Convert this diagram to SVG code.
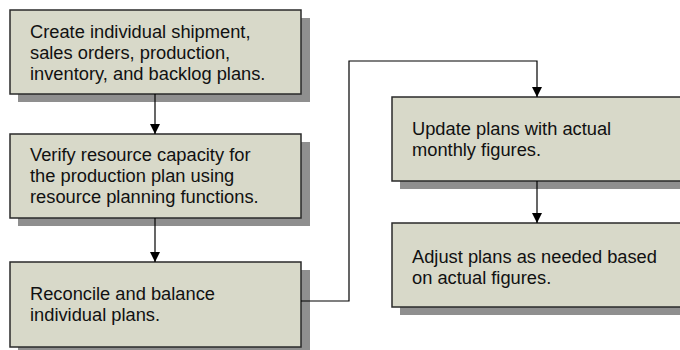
<svg xmlns="http://www.w3.org/2000/svg" width="680" height="350" viewBox="0 0 680 350">
<style>
.shadow{fill:#8f8f8f}
.box{fill:#d8d9c9;stroke:#2a2a2a;stroke-width:1.5}
.t{font-family:"Liberation Sans",Arial,sans-serif;font-size:18.3px;fill:#111}
.c{fill:none;stroke:#000;stroke-width:1.2}
</style>
<defs>
<marker id="ah" viewBox="0 0 10 10" refX="10" refY="5" markerWidth="10" markerHeight="10" markerUnits="userSpaceOnUse" orient="auto">
<path d="M0,0 L10,5 L0,10 Z" fill="#000"/>
</marker>
</defs>
<rect width="680" height="350" fill="#fff"/>
<g id="n1">
<rect class="shadow" x="18" y="18" width="292" height="84"/>
<rect class="box" x="10" y="10" width="291" height="84"/>
<text class="t" x="30" y="38">Create individual shipment,</text>
<text class="t" x="30" y="59">sales orders, production,</text>
<text class="t" x="30" y="80">inventory, and backlog plans.</text>
</g>
<g id="n2">
<rect class="shadow" x="18" y="142" width="292" height="84"/>
<rect class="box" x="10" y="134" width="291" height="84"/>
<text class="t" x="30" y="161">Verify resource capacity for</text>
<text class="t" x="30" y="182">the production plan using</text>
<text class="t" x="30" y="203">resource planning functions.</text>
</g>
<g id="n3">
<rect class="shadow" x="18" y="270" width="292" height="85"/>
<rect class="box" x="10" y="262" width="291" height="85"/>
<text class="t" x="30" y="300">Reconcile and balance</text>
<text class="t" x="30" y="321">individual plans.</text>
</g>
<g id="n4">
<rect class="shadow" x="400" y="105" width="300" height="84"/>
<rect class="box" x="392" y="97" width="300" height="84"/>
<text class="t" x="412" y="135">Update plans with actual</text>
<text class="t" x="412" y="156">monthly figures.</text>
</g>
<g id="n5">
<rect class="shadow" x="400" y="231" width="300" height="84"/>
<rect class="box" x="392" y="223" width="300" height="84"/>
<text class="t" x="412" y="263">Adjust plans as needed based</text>
<text class="t" x="412" y="284">on actual figures.</text>
</g>
<g id="connectors">
<path class="c" d="M155,94 V134" marker-end="url(#ah)"/>
<path class="c" d="M155,218 V262" marker-end="url(#ah)"/>
<path class="c" d="M301,301 H349 V61 H537 V97" marker-end="url(#ah)"/>
<path class="c" d="M537,181 V223" marker-end="url(#ah)"/>
</g>
</svg>
